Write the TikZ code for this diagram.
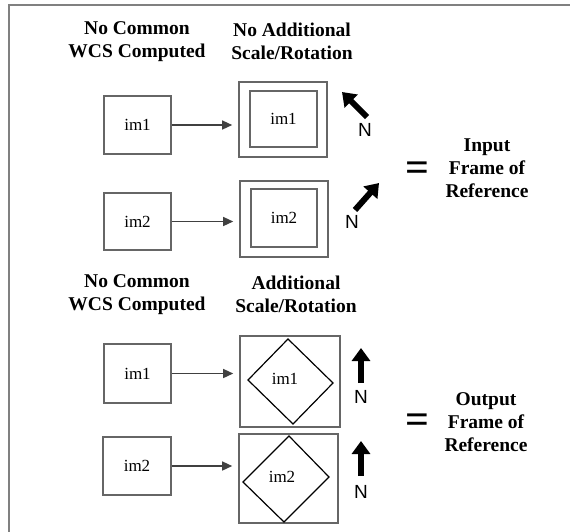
\documentclass[tikz,border=0pt]{standalone}
\usepackage{fontspec}
\setmainfont{Liberation Serif}
\newfontfamily\nfont{Liberation Sans}
\usetikzlibrary{arrows.meta}
\tikzset{
  frameline/.style={draw=black!50, line width=2pt},
  imbox/.style={draw=black!60, line width=1.6pt, minimum width=#1, inner sep=0pt, font=\fontsize{17}{19}\selectfont},
  outerbox/.style={draw=black!60, line width=1.6pt, inner sep=0pt},
  heading/.style={align=center, font=\bfseries\fontsize{19.5}{23}\selectfont},
  conn/.style={draw=black!75, line width=1.4pt, -{Triangle[length=10pt,width=9pt]}, shorten >=6pt},
  north/.style={line width=6pt, -{Triangle[length=13pt,width=18pt]}},
  nlabel/.style={font=\nfont\fontsize{19}{19}\selectfont},
  eqsign/.style={font=\bfseries\fontsize{42}{42}\selectfont},
  diam/.style={draw=black, line width=1.2pt, line join=miter},
}
\begin{document}
\begin{tikzpicture}[x=1pt,y=-1pt]
\useasboundingbox (0,0) rectangle (570,531);
\draw[frameline] (9,535) -- (9,5) -- (575,5);

% headings
\node[heading] (h1) at (137,41.5) {No Common\\WCS Computed};
\node[heading] (h2) at (292,41.5) {No Additional\\Scale/Rotation};
\node[heading] (h3) at (137,295) {No Common\\WCS Computed};
\node[heading] (h4) at (296,294.5) {Additional\\Scale/Rotation};

% top section
\node[imbox=67pt, minimum height=58pt] (a1) at (137.5,125) {im1};
\node[imbox=67pt, minimum height=57pt] (a2) at (137.5,221.5) {im2};
\node[outerbox, minimum width=88pt, minimum height=75pt] (b1) at (283,119.5) {};
\node[imbox=67pt, minimum height=56pt] (b1i) at (283.5,119) {im1};
\node[outerbox, minimum width=88pt, minimum height=76pt] (b2) at (284,219) {};
\node[imbox=66pt, minimum height=58pt] (b2i) at (284,218) {im2};
\draw[conn] (a1.east) -- (a1.east -| b1.west);
\draw[conn] (a2.east) -- (a2.east -| b2.west);

\coordinate (n1s) at (367,117);
\coordinate (n1e) at (342,92);
\draw[north] (n1s) -- (n1e);
\node[nlabel] (n1) at (365,130) {N};
\coordinate (n2s) at (355,210);
\coordinate (n2e) at (379,183);
\draw[north] (n2s) -- (n2e);
\node[nlabel] (n2) at (352,222) {N};

\node[eqsign] (eq1) at (417,172) {=};
\node[heading] (in) at (487,168.5) {Input\\Frame of\\Reference};

% bottom section
\node[imbox=67pt, minimum height=59pt] (c1) at (137.5,373.5) {im1};
\node[imbox=68pt, minimum height=58pt] (c2) at (137,466) {im2};
\node[outerbox, minimum width=100pt, minimum height=91pt] (d1) at (290,381.5) {};
\node[outerbox, minimum width=99pt, minimum height=89pt] (d2) at (288.5,478.5) {};
\draw[diam] (288,339) -- (333,383) -- (293,424) -- (248,380) -- cycle;
\node[font=\fontsize{17}{19}\selectfont] (d1t) at (285,379) {im1};
\draw[diam] (289,436) -- (329,477) -- (284,522) -- (243,482) -- cycle;
\node[font=\fontsize{17}{19}\selectfont] (d2t) at (282,477) {im2};
\draw[conn] (c1.east) -- (c1.east -| d1.west);
\draw[conn] (c2.east) -- (c2.east -| d2.west);

\coordinate (n3s) at (361,383);
\coordinate (n3e) at (361,348);
\draw[north] (n3s) -- (n3e);
\node[nlabel] (n3) at (361,397) {N};
\coordinate (n4s) at (361,476);
\coordinate (n4e) at (361,441);
\draw[north] (n4s) -- (n4e);
\node[nlabel] (n4) at (361,492) {N};

\node[eqsign] (eq2) at (417,424) {=};
\node[heading] (out) at (486,422) {Output\\Frame of\\Reference};
\end{tikzpicture}
\end{document}
